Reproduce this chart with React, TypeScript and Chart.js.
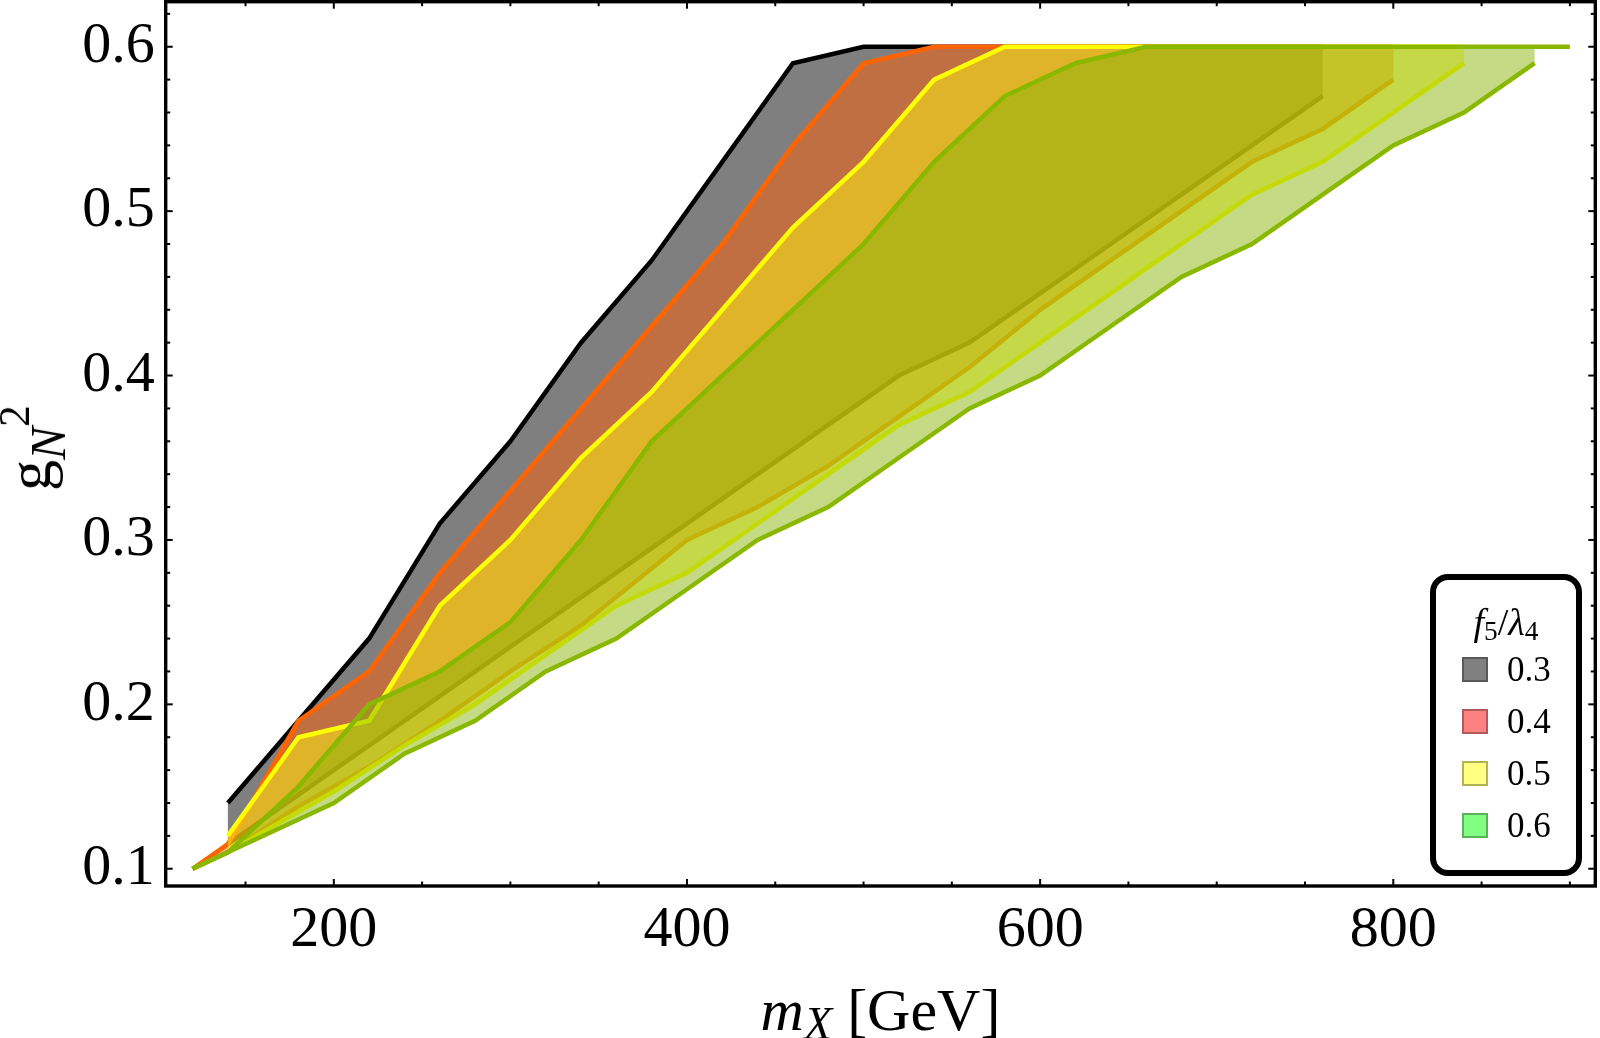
import React, { useEffect, useRef } from "react";
import Chart from "chart.js/auto";

const SERIF = '"Liberation Serif", "Times New Roman", serif';

// boundaries of the allowed regions, [m_X, g_N^2]
// f5/lambda4 = 0.3
const upper03: [number, number][] = [[140, 0.14], [180, 0.19], [220, 0.24], [260, 0.31], [300, 0.36], [340, 0.42], [380, 0.47], [420, 0.53], [460, 0.59], [500, 0.6], [760, 0.6]];
const lower03: [number, number][] = [[140, 0.115], [200, 0.16], [260, 0.205], [320, 0.25], [380, 0.295], [440, 0.34], [520, 0.4], [560, 0.42], [600, 0.45], [640, 0.48], [680, 0.51], [720, 0.54], [760, 0.57]];
// f5/lambda4 = 0.4
const upper04: [number, number][] = [[120, 0.1], [140, 0.115], [180, 0.19], [220, 0.22], [260, 0.28], [300, 0.33], [340, 0.38], [380, 0.43], [420, 0.48], [460, 0.54], [500, 0.59], [540, 0.6], [800, 0.6]];
const lower04: [number, number][] = [[120, 0.1], [140, 0.11], [180, 0.138], [220, 0.162], [260, 0.19], [300, 0.22], [340, 0.248], [400, 0.3], [440, 0.32], [480, 0.345], [520, 0.375], [560, 0.405], [600, 0.44], [640, 0.47], [680, 0.5], [720, 0.53], [760, 0.55], [800, 0.58]];
// f5/lambda4 = 0.5
const upper05: [number, number][] = [[140, 0.12], [180, 0.18], [220, 0.19], [260, 0.26], [300, 0.3], [340, 0.35], [380, 0.39], [420, 0.44], [460, 0.49], [500, 0.53], [540, 0.58], [580, 0.6], [840, 0.6]];
const lower05: [number, number][] = [[140, 0.11], [200, 0.147], [240, 0.175], [280, 0.2], [320, 0.23], [360, 0.26], [400, 0.28], [440, 0.31], [480, 0.34], [520, 0.37], [560, 0.39], [600, 0.42], [640, 0.45], [680, 0.48], [720, 0.51], [760, 0.53], [800, 0.56], [840, 0.59]];
// f5/lambda4 = 0.6
const upper06: [number, number][] = [[120, 0.1], [140, 0.11], [180, 0.15], [220, 0.2], [260, 0.22], [300, 0.25], [340, 0.3], [380, 0.36], [420, 0.4], [460, 0.44], [500, 0.48], [540, 0.53], [580, 0.57], [620, 0.59], [660, 0.6], [900, 0.6]];
const lower06: [number, number][] = [[120, 0.1], [140, 0.11], [200, 0.14], [240, 0.17], [280, 0.19], [320, 0.22], [360, 0.24], [400, 0.27], [440, 0.3], [480, 0.32], [520, 0.35], [560, 0.38], [600, 0.4], [640, 0.43], [680, 0.46], [720, 0.48], [760, 0.51], [800, 0.54], [840, 0.56], [880, 0.59]];

const fillColors = ["rgba(0,0,0,0.5)", "rgba(255,95,5,0.5)", "rgba(255,250,15,0.5)", "rgba(138,182,10,0.5)"];
const lineColors = ["#000000", "#ff6400", "#ffff00", "#8ab800"];

const legendValues = ["0.3", "0.4", "0.5", "0.6"];
const legendSwatches = ["#808080", "#ff8080", "#ffff80", "#80ff80"];

const xMajorTicks = [200, 400, 600, 800];
const xMinorTicks = [150, 250, 300, 350, 450, 500, 550, 650, 700, 750, 850, 900];
const yMajorTicks = [0.1, 0.2, 0.3, 0.4, 0.5, 0.6];
const yMinorTicks = [0.12, 0.14, 0.16, 0.18, 0.22, 0.24, 0.26, 0.28, 0.32, 0.34, 0.36, 0.38, 0.42, 0.44, 0.46, 0.48, 0.52, 0.54, 0.56, 0.58, 0.62];

const X_MIN = 104.8;
const X_MAX = 914.4;
const Y_MIN = 0.0895;
const Y_MAX = 0.6274;

const regions = [
	{ upper: upper03, lower: lower03 },
	{ upper: upper04, lower: lower04 },
	{ upper: upper05, lower: lower05 },
	{ upper: upper06, lower: lower06 },
];

const toPoints = (arr: [number, number][]) => arr.map(([x, y]) => ({ x, y }));

function buildDatasets() {
	const list: any[] = [];
	regions.forEach((r, i) => {
		const xEnd = r.lower[r.lower.length - 1][0];
		const top = r.upper[r.upper.length - 1][1];
		const outline = [...r.upper.filter(([x]) => x < xEnd), [xEnd, top] as [number, number], ...[...r.lower].reverse()];
		list.push({ data: toPoints(outline), fill: "shape", backgroundColor: fillColors[i], borderWidth: 0, pointRadius: 0 });
		list.push({ data: toPoints(r.upper), fill: false, borderColor: lineColors[i], borderWidth: 4.5, pointRadius: 0 });
		list.push({ data: toPoints(r.lower), fill: false, borderColor: lineColors[i], borderWidth: 4.5, pointRadius: 0 });
	});
	// first in list is drawn first (bottom)
	return list.map((d, i) => ({ ...d, order: list.length - i }));
}

const framePlugin = {
	id: "frame",
	afterDraw(chart: any) {
		const { ctx, chartArea: a, scales } = chart;
		const xs = scales.x;
		const ys = scales.y;
		ctx.save();
		ctx.strokeStyle = "#000";
		ctx.lineWidth = 2;
		const seg = (x1: number, y1: number, x2: number, y2: number) => {
			ctx.beginPath();
			ctx.moveTo(x1, y1);
			ctx.lineTo(x2, y2);
			ctx.stroke();
		};
		const xTick = (v: number, len: number) => {
			const p = xs.getPixelForValue(v);
			seg(p, a.bottom, p, a.bottom - len);
			seg(p, a.top, p, a.top + len);
		};
		const yTick = (v: number, len: number) => {
			const p = ys.getPixelForValue(v);
			seg(a.left, p, a.left + len, p);
			seg(a.right, p, a.right - len, p);
		};
		xMajorTicks.forEach((v) => xTick(v, 7));
		xMinorTicks.forEach((v) => xTick(v, 4.5));
		yMajorTicks.forEach((v) => yTick(v, 7));
		yMinorTicks.forEach((v) => yTick(v, 4.5));
		ctx.lineWidth = 3.4;
		ctx.strokeRect(a.left, a.top, a.right - a.left, a.bottom - a.top);
		ctx.restore();
	},
};

const RegionChart: React.FC = () => {
	const canvasRef = useRef<HTMLCanvasElement | null>(null);

	useEffect(() => {
		if (!canvasRef.current) return;
		const chart = new Chart(canvasRef.current, {
			type: "line",
			data: { datasets: buildDatasets() },
			options: {
				animation: false,
				responsive: false,
				layout: { autoPadding: false, padding: { left: 0, top: 1.7, right: 4.7, bottom: 0 } },
				elements: { line: { tension: 0 }, point: { radius: 0 } },
				plugins: { legend: { display: false }, tooltip: { enabled: false } },
				scales: {
					x: {
						type: "linear",
						min: X_MIN,
						max: X_MAX,
						grid: { display: false, drawTicks: false },
						border: { display: false },
						afterBuildTicks: (s: any) => {
							s.ticks = xMajorTicks.map((value) => ({ value }));
						},
						afterFit: (s: any) => {
							s.height = 152;
							s.paddingLeft = 0;
							s.paddingRight = 0;
						},
						ticks: {
							color: "#000",
							padding: 10,
							maxRotation: 0,
							autoSkip: false,
							font: { family: SERIF, size: 58 },
							callback: (v: any) => String(v),
						},
					},
					y: {
						type: "linear",
						min: Y_MIN,
						max: Y_MAX,
						grid: { display: false, drawTicks: false },
						border: { display: false },
						afterBuildTicks: (s: any) => {
							s.ticks = yMajorTicks.map((value) => ({ value }));
						},
						afterFit: (s: any) => {
							s.width = 165.7;
							s.paddingTop = 0;
							s.paddingBottom = 0;
						},
						ticks: {
							color: "#000",
							padding: 11,
							autoSkip: false,
							font: { family: SERIF, size: 58 },
							callback: (v: any) => Number(v).toFixed(1),
						},
					},
				},
			} as any,
			plugins: [framePlugin],
		});
		return () => {
			chart.destroy();
		};
	}, []);

	return <canvas ref={canvasRef} width={1600} height={1038} style={{ position: "absolute", left: 0, top: 0 }} />;
};

const App: React.FC = () => {
	return (
		<div style={{ position: "fixed", left: 0, top: 0, width: 1600, height: 1038, background: "#fff", fontFamily: SERIF, color: "#000", overflow: "hidden" }}>
			<RegionChart />
			{/* x axis title */}
			<div style={{ position: "absolute", left: 165.7, width: 1429.6, top: 980, textAlign: "center", fontSize: 60, lineHeight: "60px", whiteSpace: "nowrap" }}>
				<i>m</i>
				<i style={{ fontSize: "0.77em", position: "relative", top: "0.2em" }}>X</i> [GeV]
			</div>
			{/* y axis title */}
			<div style={{ position: "absolute", left: 32, top: 448, transform: "translate(-50%, -50%) rotate(-90deg)", fontSize: 62, lineHeight: "62px", whiteSpace: "nowrap" }}>
				g<i style={{ fontSize: "0.8em", position: "relative", top: "0.3em" }}>N</i>
				<span style={{ fontSize: "0.7em", position: "relative", top: "-0.48em" }}>2</span>
			</div>
			{/* legend */}
			<div style={{ position: "absolute", left: 1430, top: 574, width: 152, height: 302, border: "6px solid #000", borderRadius: 18, boxSizing: "border-box", background: "#fff" }} />
			<div style={{ position: "absolute", left: 1430, width: 152, top: 603, textAlign: "center", fontSize: 38, lineHeight: "38px", whiteSpace: "nowrap" }}>
				<i>f</i>
				<span style={{ fontSize: "0.72em", position: "relative", top: "0.18em" }}>5</span>/<i>λ</i>
				<span style={{ fontSize: "0.72em", position: "relative", top: "0.18em" }}>4</span>
			</div>
			{legendValues.map((label, i) => (
				<React.Fragment key={label}>
					<div style={{ position: "absolute", left: 1462, top: 657.3 + i * 51.9, width: 26, height: 25, background: legendSwatches[i], border: "2px solid rgba(0,0,0,0.3)", boxSizing: "border-box" }} />
					<div style={{ position: "absolute", left: 1507, top: 657.3 + i * 51.9, fontSize: 35, lineHeight: "25px", whiteSpace: "nowrap" }}>{label}</div>
				</React.Fragment>
			))}
		</div>
	);
};

export default App;
